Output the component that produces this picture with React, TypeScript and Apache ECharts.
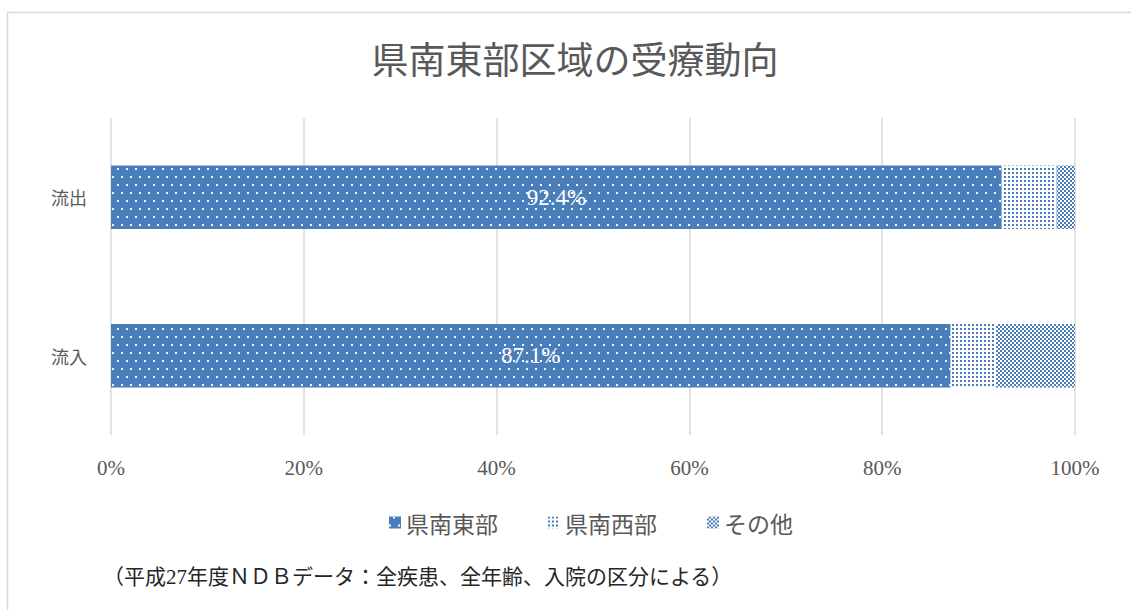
import React, { useEffect, useRef } from "react";
import * as echarts from "echarts";

const categories = ["流出", "流入"];
const seriesNames = ["県南東部", "県南西部", "その他"];
const kenNanTobu = [92.4, 87.1];
const kenNanSeibu = [5.7, 4.7];
const sonota = [1.9, 8.2];
const xTicks = [0, 20, 40, 60, 80, 100];
const titleText = "県南東部区域の受療動向";
const noteText = "（平成27年度ＮＤＢデータ：全疾患、全年齢、入院の区分による）";

const BLUE = "#4a7ebb";
const SERIF = "'Liberation Serif', 'Noto Sans CJK JP', serif";
const CJK = "'Noto Sans CJK JP', sans-serif";

export default function App() {
  const ref = useRef<HTMLDivElement>(null);
  useEffect(() => {
    if (!ref.current) return;
    const chart = echarts.init(ref.current, undefined, { renderer: "svg" });
    const decals = [
      { symbol: "rect", symbolSize: 1, color: "#ffffff", dashArrayX: [[2, 7], [0, 4, 2, 3]], dashArrayY: [2, 6] },
      { symbol: "rect", symbolSize: 1, color: BLUE, dashArrayX: [2, 2], dashArrayY: [2, 2] },
      { symbol: "rect", symbolSize: 1, color: BLUE, dashArrayX: [[2, 2], [0, 2, 2, 0]], dashArrayY: [2, 0] },
    ];
    const baseColors = [BLUE, "#ffffff", "#ffffff"];
    const datas = [kenNanTobu, kenNanSeibu, sonota];
    chart.setOption({
      animation: false,
      graphic: [
        {
          type: "rect",
          shape: { x: 7.5, y: 12.5, width: 1200, height: 700 },
          style: { fill: "none", stroke: "#d9d9d9", lineWidth: 1.5 },
          silent: true,
        },
        {
          type: "text",
          x: 575,
          y: 58,
          style: {
            text: titleText,
            font: `37px ${CJK}`,
            fill: "#595959",
            align: "center",
            verticalAlign: "middle",
          },
        },
        {
          type: "text",
          left: 103,
          top: 566,
          style: { text: noteText, font: `21px ${SERIF}`, fill: "#262626" },
        },
      ],
      legend: {
        bottom: 71,
        left: 384,
        icon: "rect",
        itemWidth: 12,
        itemHeight: 12,
        itemGap: 50,
        textStyle: { fontFamily: CJK, fontSize: 23, color: "#595959" },
        data: seriesNames,
      },
      grid: { left: 111, right: 56, top: 118, bottom: 175, containLabel: false },
      xAxis: {
        type: "value",
        min: 0,
        max: 100,
        interval: 20,
        axisLine: { show: false },
        axisTick: { show: false },
        splitLine: { lineStyle: { color: "#d9d9d9", width: 1.5 } },
        axisLabel: {
          margin: 22,
          fontFamily: SERIF,
          fontSize: 21,
          color: "#595959",
          formatter: (v: number) => (xTicks.includes(v) ? v + "%" : ""),
        },
      },
      yAxis: {
        type: "category",
        data: categories,
        inverse: true,
        axisLine: { show: false },
        axisTick: { show: false },
        axisLabel: { margin: 24, fontFamily: CJK, fontSize: 18, color: "#595959" },
      },
      series: seriesNames.map((name, i) => ({
        name,
        type: "bar",
        stack: "total",
        barWidth: "40%",
        data: datas[i],
        itemStyle: { color: baseColors[i], decal: decals[i] },
        label: {
          show: i === 0,
          position: "inside",
          formatter: (p: any) => p.value.toFixed(1) + "%",
          fontFamily: SERIF,
          fontSize: 23,
          color: "#ffffff",
        },
      })),
    });
    return () => chart.dispose();
  }, []);
  return (
    <div
      ref={ref}
      style={{ position: "fixed", left: 0, top: 0, width: 1131, height: 610, background: "#ffffff" }}
    />
  );
}
